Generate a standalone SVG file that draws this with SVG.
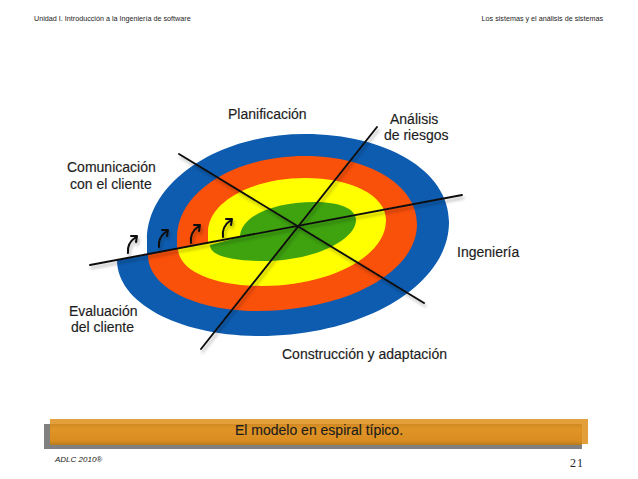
<svg xmlns="http://www.w3.org/2000/svg" width="638" height="479" viewBox="0 0 638 479">
<style>
text{font-family:"Liberation Sans",Arial,sans-serif;fill:#1c1c1c}
.l{font-size:14px;stroke:#1c1c1c;stroke-width:.15px}
.h{font-size:7.2px}
.ax{stroke:#111;stroke-width:1.9;fill:none;stroke-linecap:round}
.ar{stroke:#111;stroke-width:2;fill:none;stroke-linecap:round;stroke-linejoin:round}
</style>
<defs>
<linearGradient id="bar" x1="0" y1="0" x2="0" y2="1"><stop offset="0" stop-color="#d08a22"/><stop offset=".25" stop-color="#e09426"/><stop offset=".8" stop-color="#d98d20"/><stop offset="1" stop-color="#b87a1e"/></linearGradient>
<filter id="sh" x="-10%" y="-10%" width="120%" height="120%"><feDropShadow dx="1.5" dy="3" stdDeviation="1.5" flood-color="#000" flood-opacity=".28"/></filter>
</defs>
<rect width="638" height="479" fill="#fff"/>
<text class="h" x="34" y="21">Unidad I. Introducción a la Ingeniería de software</text>
<text class="h" x="603" y="21" text-anchor="end">Los sistemas y el análisis de sistemas</text>
<g id="spiral">
<path fill="#0d5cb0" d="M147 254L147 240C147 182 218 134 305 134C385 134 449 170 449 222C449 286 362 336 260 336C179 336 117 303 117 260Z"/>
<path fill="#f9500a" d="M177 249L177 238C177 192 234 156 305 156C367 156 417 184 417 224C417 273 345 311 257 311C197 311 148 288 148 255Z"/>
<path fill="#ffff00" d="M208 243L208 232C208 202 252 178 305 178C351 178 386 195 386 220C386 258 327 286 262 286C212 286 178 270 178 248Z"/>
<path fill="#3ea30f" d="M240 237C240 218 270 202 315 202C338 202 356 208 356 220C356 240 314 261 264 261C232 261 210 256 210 245Z"/>
</g>
<g id="connectors" filter="url(#sh)">
<line class="ax" x1="90" y1="265" x2="462" y2="195"/>
<line class="ax" x1="179" y1="154" x2="424" y2="303"/>
<line class="ax" x1="201" y1="349" x2="377" y2="127"/>
<path class="ar" d="M128 253C127 246 130 241 136 237M131 236L137 236L136 242"/>
<path class="ar" d="M159 247C158 240 161 235 167 231M162 230L168 230L167 236"/>
<path class="ar" d="M191 243C190 236 193 230 199 226M194 225L200 225L199 231"/>
<path class="ar" d="M223 237C222 230 225 224 231 220M226 219L232 219L231 225"/>
</g>
<g id="labels">
<text class="l" x="228" y="119">Planificación</text>
<text class="l" x="390" y="124">Análisis</text>
<text class="l" x="384" y="140">de riesgos</text>
<text class="l" x="67" y="172">Comunicación</text>
<text class="l" x="70" y="189">con el cliente</text>
<text class="l" x="457" y="257">Ingeniería</text>
<text class="l" x="69" y="316">Evaluación</text>
<text class="l" x="71" y="332">del cliente</text>
<text class="l" x="282" y="359">Construcción y adaptación</text>
</g>
<g id="banner">
<rect x="44" y="424" width="538" height="25" fill="#808080"/>
<rect x="50" y="419" width="538" height="25" fill="#e3a03a"/>
<rect x="50" y="424" width="532" height="21" fill="url(#bar)"/>
<text x="319" y="435" font-size="14" text-anchor="middle" stroke="#1c1c1c" stroke-width=".15">El modelo en espiral típico.</text>
</g>
<text x="55" y="462" font-size="8" font-style="italic">ADLC 2010®</text>
<text x="577" y="467" font-size="12" letter-spacing="1" text-anchor="middle" style="font-family:'Liberation Serif',serif">21</text>
</svg>
